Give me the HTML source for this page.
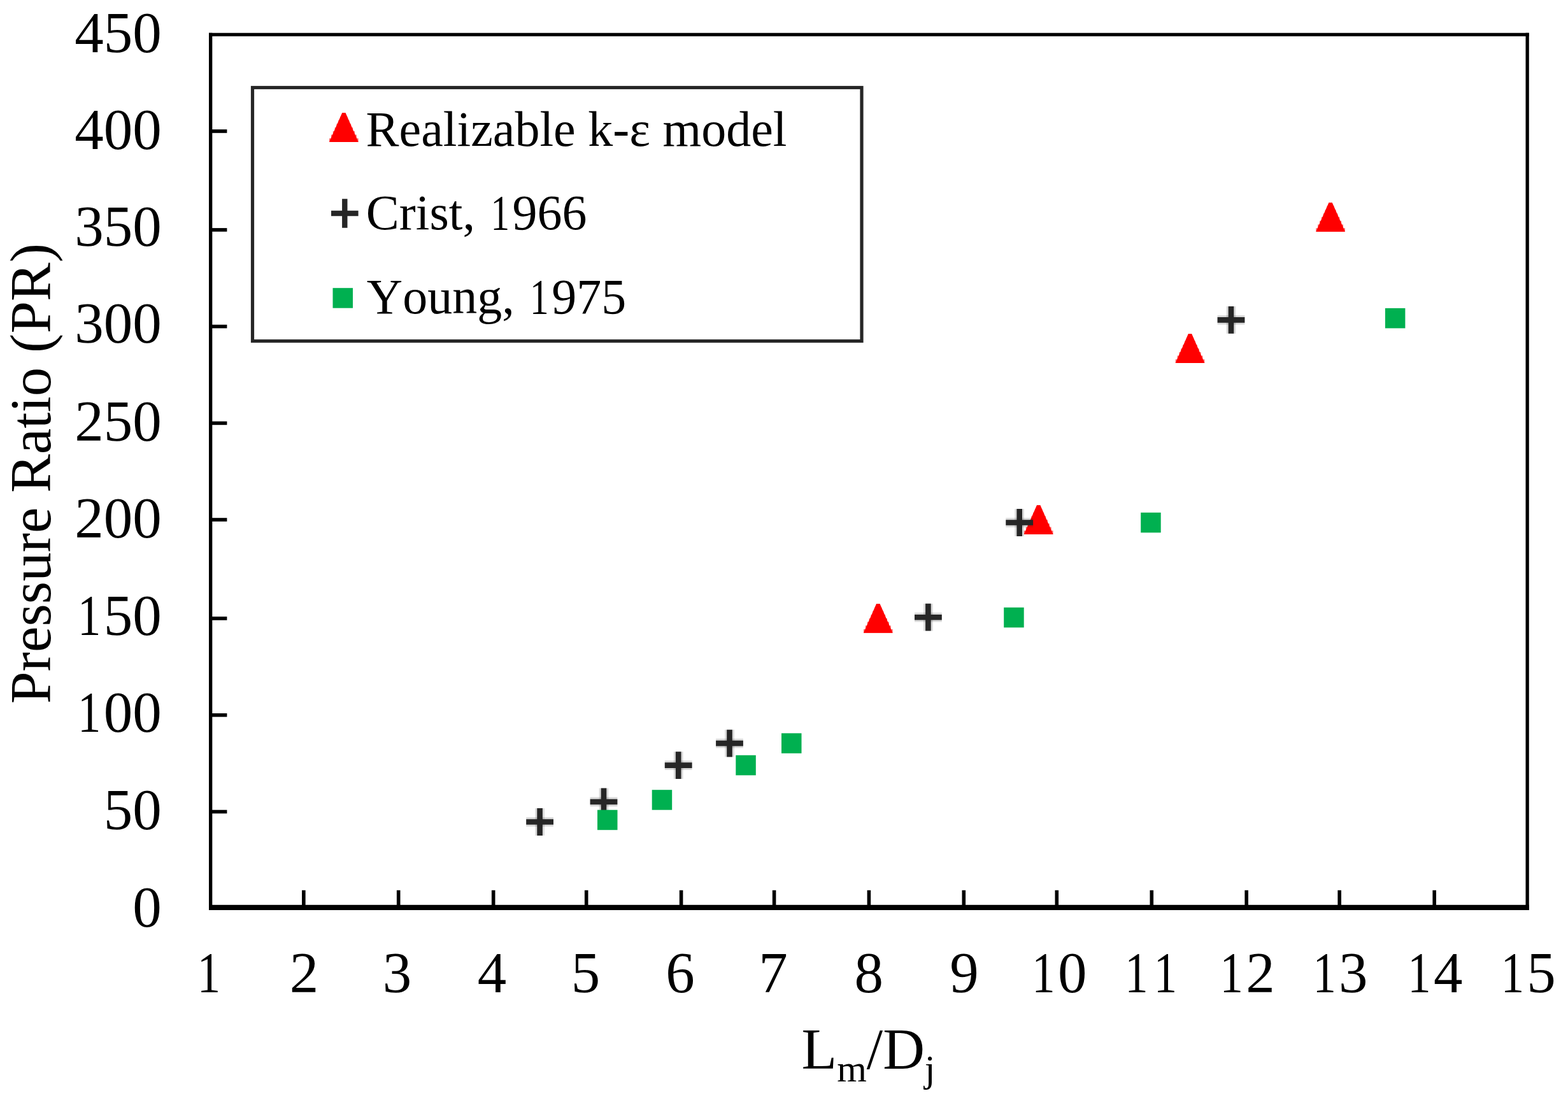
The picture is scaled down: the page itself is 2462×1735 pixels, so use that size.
<!DOCTYPE html>
<html><head><meta charset="utf-8"><title>Pressure Ratio vs Lm/Dj</title>
<style>
html,body{margin:0;padding:0;background:#fff;overflow:hidden;}
svg{display:block;}
text{font-family:"Liberation Serif","Times New Roman",serif;fill:#000;font-kerning:none;}
</style></head>
<body>
<svg width="2462" height="1735" viewBox="0 0 2462 1735">
<rect width="2462" height="1735" fill="#fff"/>
<g fill="#000">
<rect x="328" y="51.7" width="2072.8" height="5.3"/>
<rect x="328" y="51.7" width="5.3" height="1377.3"/>
<rect x="2395.5" y="51.7" width="5.3" height="1377.3"/>
<rect x="328" y="1420.8" width="2072.8" height="8.2"/>
<rect x="474.05" y="1397.8" width="5.6" height="24"/>
<rect x="622.90" y="1397.8" width="5.6" height="24"/>
<rect x="771.90" y="1397.8" width="5.6" height="24"/>
<rect x="917.90" y="1397.8" width="5.6" height="24"/>
<rect x="1066.80" y="1397.8" width="5.6" height="24"/>
<rect x="1212.80" y="1397.8" width="5.6" height="24"/>
<rect x="1361.60" y="1397.8" width="5.6" height="24"/>
<rect x="1510.50" y="1397.8" width="5.6" height="24"/>
<rect x="1656.50" y="1397.8" width="5.6" height="24"/>
<rect x="1805.50" y="1397.8" width="5.6" height="24"/>
<rect x="1954.40" y="1397.8" width="5.6" height="24"/>
<rect x="2100.40" y="1397.8" width="5.6" height="24"/>
<rect x="2249.40" y="1397.8" width="5.6" height="24"/>
<rect x="333" y="203.20" width="23.4" height="5.6"/>
<rect x="333" y="358.10" width="23.4" height="5.6"/>
<rect x="333" y="509.80" width="23.4" height="5.6"/>
<rect x="333" y="661.60" width="23.4" height="5.6"/>
<rect x="333" y="813.20" width="23.4" height="5.6"/>
<rect x="333" y="968.20" width="23.4" height="5.6"/>
<rect x="333" y="1120.00" width="23.4" height="5.6"/>
<rect x="333" y="1271.70" width="23.4" height="5.6"/>
</g>
<g font-size="91">
<text x="117.30" y="81.85">450</text>
<text x="117.30" y="233.50">400</text>
<text x="117.30" y="385.90">350</text>
<text x="117.30" y="537.60">300</text>
<text x="117.30" y="692.40">250</text>
<text x="117.30" y="844.00">200</text>
<text transform="translate(141.32 996.50) scale(0.800 1)" x="-24.02">1</text><text x="162.80" y="996.50">50</text>
<text transform="translate(141.32 1149.30) scale(0.800 1)" x="-24.02">1</text><text x="162.80" y="1149.30">00</text>
<text x="162.80" y="1302.00">50</text>
<text x="208.30" y="1454.80">0</text>
</g>
<g font-size="91">
<text transform="translate(328.92 1558.00) scale(0.800 1)" x="-24.02">1</text>
<text x="454.70" y="1558.00">2</text>
<text x="600.75" y="1558.00">3</text>
<text x="749.65" y="1558.00">4</text>
<text x="896.75" y="1558.00">5</text>
<text x="1045.15" y="1558.00">6</text>
<text x="1191.15" y="1558.00">7</text>
<text x="1341.55" y="1558.00">8</text>
<text x="1491.15" y="1558.00">9</text>
<text transform="translate(1639.52 1558.00) scale(0.800 1)" x="-24.02">1</text><text x="1661.00" y="1558.00">0</text>
<text transform="translate(1785.42 1558.00) scale(0.800 1)" x="-24.02">1</text><text transform="translate(1830.92 1558.00) scale(0.800 1)" x="-24.02">1</text>
<text transform="translate(1934.72 1558.00) scale(0.800 1)" x="-24.02">1</text><text x="1956.20" y="1558.00">2</text>
<text transform="translate(2080.62 1558.00) scale(0.800 1)" x="-24.02">1</text><text x="2102.10" y="1558.00">3</text>
<text transform="translate(2229.52 1558.00) scale(0.800 1)" x="-24.02">1</text><text x="2251.00" y="1558.00">4</text>
<text transform="translate(2375.87 1558.00) scale(0.800 1)" x="-24.02">1</text><text x="2397.35" y="1558.00">5</text>
</g>
<text x="1258.6" y="1678" font-size="91">L<tspan font-size="60" dy="20">m</tspan><tspan dy="-20">/D</tspan><tspan font-size="60" dy="20">j</tspan></text>
<text transform="translate(78.5,1104.9) rotate(-90)" font-size="91">Pressure Ratio (PR)</text>
<rect x="396.5" y="137.5" width="956.5" height="398" fill="none" stroke="#262626" stroke-width="5.2"/>
<path d="M537.14 177.35H542.58V183.06H545.45V188.78H548.32V194.49H551.19V200.20H554.06V205.91H556.93V211.62H559.80V217.34H562.67V223.05H517.05V217.34H519.92V211.62H522.79V205.91H525.66V200.20H528.53V194.49H531.40V188.78H534.27V183.06H537.14V177.35Z" fill="#f00" fill-opacity="0.6"/><path d="M537.14 177.35L542.58 177.35L562.67 223.05L517.05 223.05Z" fill="#f00"/>
<path d="M520.0 330.8h17.1v-18.6h8.4v18.6h17.1v8.4h-17.1v18.6h-8.4v-18.6h-17.1z" fill="#262626"/>
<rect x="522.5" y="452.2" width="31.5" height="31.5" fill="#00b050"/>
<g font-size="78">
<text x="574.6" y="228.8">Realizable k-ε model</text>
<text x="574.80" y="360.10">Crist, </text><text transform="translate(786.08 360.10) scale(0.760 1)" x="-20.59">1</text><text x="804.50" y="360.10">966</text>
<text x="575.80" y="491.60">Young, </text><text transform="translate(847.71 491.60) scale(0.760 1)" x="-20.59">1</text><text x="866.13" y="491.60">975</text>
</g>
<path d="M1376.08 948.05H1381.52V953.76H1384.39V959.47H1387.26V965.19H1390.13V970.90H1393.00V976.61H1395.87V982.32H1398.74V988.04H1401.61V993.75H1355.99V988.04H1358.86V982.32H1361.73V976.61H1364.60V970.90H1367.47V965.19H1370.34V959.47H1373.21V953.76H1376.08V948.05Z" fill="#f00" fill-opacity="0.6"/><path d="M1376.08 948.05L1381.52 948.05L1401.61 993.75L1355.99 993.75Z" fill="#f00"/>
<path d="M1627.98 793.35H1633.42V799.06H1636.29V804.77H1639.16V810.49H1642.03V816.20H1644.90V821.91H1647.77V827.62H1650.64V833.34H1653.51V839.05H1607.89V833.34H1610.76V827.62H1613.63V821.91H1616.50V816.20H1619.37V810.49H1622.24V804.77H1625.11V799.06H1627.98V793.35Z" fill="#f00" fill-opacity="0.6"/><path d="M1627.98 793.35L1633.42 793.35L1653.51 839.05L1607.89 839.05Z" fill="#f00"/>
<path d="M1865.78 524.35H1871.22V530.06H1874.09V535.77H1876.96V541.49H1879.83V547.20H1882.70V552.91H1885.57V558.62H1888.44V564.34H1891.31V570.05H1845.69V564.34H1848.56V558.62H1851.43V552.91H1854.30V547.20H1857.17V541.49H1860.04V535.77H1862.91V530.06H1865.78V524.35Z" fill="#f00" fill-opacity="0.6"/><path d="M1865.78 524.35L1871.22 524.35L1891.31 570.05L1845.69 570.05Z" fill="#f00"/>
<path d="M2086.38 318.15H2091.82V323.86H2094.69V329.57H2097.56V335.29H2100.43V341.00H2103.30V346.71H2106.17V352.42H2109.04V358.14H2111.91V363.85H2066.29V358.14H2069.16V352.42H2072.03V346.71H2074.90V341.00H2077.77V335.29H2080.64V329.57H2083.51V323.86H2086.38V318.15Z" fill="#f00" fill-opacity="0.6"/><path d="M2086.38 318.15L2091.82 318.15L2111.91 363.85L2066.29 363.85Z" fill="#f00"/>
<rect x="826.2" y="1283.2" width="42.8" height="14.6" fill="#262626" fill-opacity="0.17"/>
<rect x="840.3" y="1269.1" width="14.6" height="42.8" fill="#262626" fill-opacity="0.17"/>
<path d="M826.2 1286.2h17.1v-17.1h8.6v17.1h17.1v8.6h-17.1v17.1h-8.6v-17.1h-17.1z" fill="#262626"/>
<rect x="926.6" y="1251.7" width="42.8" height="14.6" fill="#262626" fill-opacity="0.17"/>
<rect x="940.7" y="1237.6" width="14.6" height="42.8" fill="#262626" fill-opacity="0.17"/>
<path d="M926.6 1254.7h17.1v-17.1h8.6v17.1h17.1v8.6h-17.1v17.1h-8.6v-17.1h-17.1z" fill="#262626"/>
<rect x="1043.8" y="1194.3" width="42.8" height="14.6" fill="#262626" fill-opacity="0.17"/>
<rect x="1057.9" y="1180.2" width="14.6" height="42.8" fill="#262626" fill-opacity="0.17"/>
<path d="M1043.8 1197.3h17.1v-17.1h8.6v17.1h17.1v8.6h-17.1v17.1h-8.6v-17.1h-17.1z" fill="#262626"/>
<rect x="1124.1" y="1159.8" width="42.8" height="14.6" fill="#262626" fill-opacity="0.17"/>
<rect x="1138.2" y="1145.7" width="14.6" height="42.8" fill="#262626" fill-opacity="0.17"/>
<path d="M1124.1 1162.8h17.1v-17.1h8.6v17.1h17.1v8.6h-17.1v17.1h-8.6v-17.1h-17.1z" fill="#262626"/>
<rect x="1436.0" y="961.9" width="42.8" height="14.6" fill="#262626" fill-opacity="0.17"/>
<rect x="1450.1" y="947.8" width="14.6" height="42.8" fill="#262626" fill-opacity="0.17"/>
<path d="M1436.0 964.9h17.1v-17.1h8.6v17.1h17.1v8.6h-17.1v17.1h-8.6v-17.1h-17.1z" fill="#262626"/>
<rect x="1579.3" y="813.2" width="42.8" height="14.6" fill="#262626" fill-opacity="0.17"/>
<rect x="1593.4" y="799.1" width="14.6" height="42.8" fill="#262626" fill-opacity="0.17"/>
<path d="M1579.3 816.2h17.1v-17.1h8.6v17.1h17.1v8.6h-17.1v17.1h-8.6v-17.1h-17.1z" fill="#262626"/>
<rect x="1911.6" y="495.1" width="42.8" height="14.6" fill="#262626" fill-opacity="0.17"/>
<rect x="1925.7" y="481.0" width="14.6" height="42.8" fill="#262626" fill-opacity="0.17"/>
<path d="M1911.6 498.1h17.1v-17.1h8.6v17.1h17.1v8.6h-17.1v17.1h-8.6v-17.1h-17.1z" fill="#262626"/>
<rect x="938.0" y="1271.7" width="31.5" height="31.5" fill="#00b050"/>
<rect x="1023.7" y="1240.2" width="31.5" height="31.5" fill="#00b050"/>
<rect x="1155.3" y="1185.8" width="31.5" height="31.5" fill="#00b050"/>
<rect x="1227.0" y="1151.3" width="31.5" height="31.5" fill="#00b050"/>
<rect x="1576.2" y="953.8" width="31.5" height="31.5" fill="#00b050"/>
<rect x="1791.2" y="804.8" width="31.5" height="31.5" fill="#00b050"/>
<rect x="2174.9" y="483.9" width="31.5" height="31.5" fill="#00b050"/>
</svg>
</body></html>
